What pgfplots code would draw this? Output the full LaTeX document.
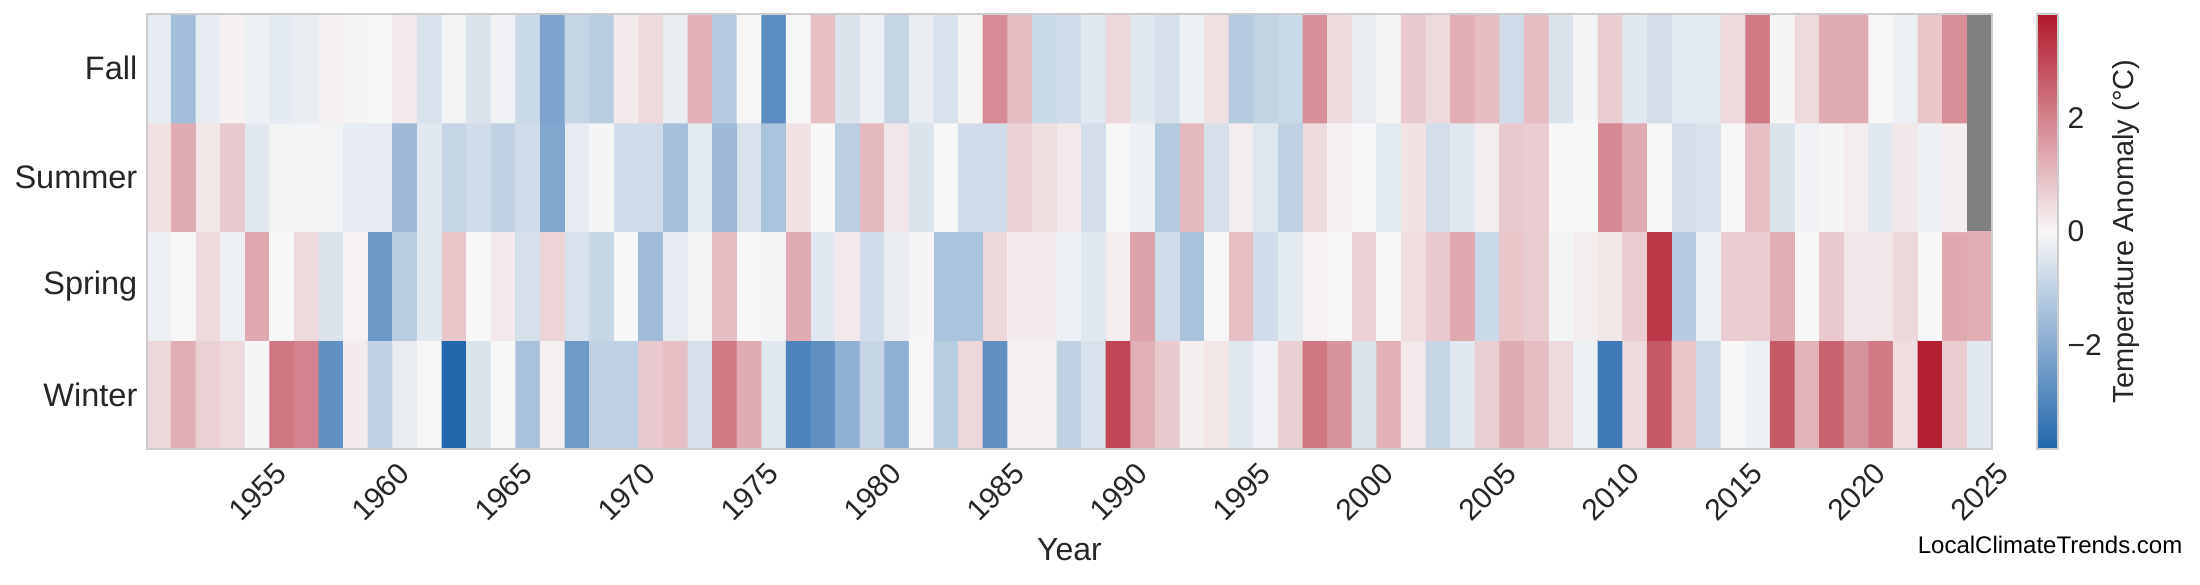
\documentclass[border=0pt]{standalone}
\usepackage{fontspec}
\setmainfont{Liberation Sans}
\usepackage{pgfplots}
\pgfplotsset{compat=1.18}
\usepgfplotslibrary{patchplots}
\definecolor{txt}{HTML}{262626}
\definecolor{framec}{HTML}{CCCCCC}
\definecolor{nodata}{HTML}{808080}
\begin{document}
\begin{tikzpicture}
\begin{axis}[
  name=main,
  scale only axis,
  width=553.5pt, height=130.5pt,
  xmin=1950.5, xmax=2025.5, ymin=-0.5, ymax=3.5,
  axis line style={draw=framec, line width=0.5pt},
  major tick length=0pt,
  xtick={1955,1960,1965,1970,1975,1980,1985,1990,1995,2000,2005,2010,2015,2020,2025},
  xticklabels={1955,1960,1965,1970,1975,1980,1985,1990,1995,2000,2005,2010,2015,2020,2025},
  ytick={0,1,2,3},
  yticklabels={Winter,Spring,Summer,Fall},
  every x tick label/.style={yshift=-12.9pt, rotate=45, anchor=center, font=\fontsize{9}{10}\selectfont, text=txt, inner sep=0pt},
  yticklabel style={anchor=east, font=\fontsize{9.75}{11}\selectfont, text=txt, inner sep=0pt, xshift=-2.7pt},
  xlabel={Year},
  every axis x label/.style={at={(axis description cs:0.5,0)}, anchor=north, yshift=-26.7pt, inner sep=0pt, font=\fontsize{9.6}{11}\selectfont, text=txt},
  colormap={tempmap}{rgb255=(33,102,172) rgb255=(247,247,247) rgb255=(178,24,43)},
  point meta min=-3.83, point meta max=3.83,
  colorbar shift/.style={},
  colorbar,
  colorbar style={
    at={(parent axis.north east)}, anchor=north west, xshift=13.5pt,
    scale only axis, width=6.3pt, height=130.5pt,
    axis line style={draw=framec, line width=0.6pt},
    major tick length=0pt,
    ytick={-2,0,2}, yticklabels={−2,0,2},
    yticklabel style={anchor=west, font=\fontsize{9}{10}\selectfont, text=txt, inner sep=0pt, xshift=2.7pt},
  },
  axis on top,
]
\addplot[matrix plot*, mesh/ordering=y varies, mesh/cols=74, mesh/rows=4, point meta=explicit] coordinates {
(1951,0)[0.55] (1951,1)[-0.2] (1951,2)[0.4] (1951,3)[-0.3]
(1952,0)[1.25] (1952,1)[0.0] (1952,2)[1.3] (1952,3)[-1.5]
(1953,0)[0.65] (1953,1)[0.5] (1953,2)[0.3] (1953,3)[-0.3]
(1954,0)[0.5] (1954,1)[-0.2] (1954,2)[0.8] (1954,3)[0.1]
(1955,0)[-0.05] (1955,1)[1.35] (1955,2)[-0.4] (1955,3)[-0.15]
(1956,0)[2.2] (1956,1)[0.0] (1956,2)[-0.1] (1956,3)[-0.35]
(1957,0)[2.0] (1957,1)[0.5] (1957,2)[-0.05] (1957,3)[-0.25]
(1958,0)[-2.7] (1958,1)[-0.5] (1958,2)[-0.1] (1958,3)[0.1]
(1959,0)[0.2] (1959,1)[0.08] (1959,2)[-0.3] (1959,3)[0.05]
(1960,0)[-1.0] (1960,1)[-2.5] (1960,2)[-0.3] (1960,3)[0.0]
(1961,0)[-0.25] (1961,1)[-1.1] (1961,2)[-1.6] (1961,3)[0.25]
(1962,0)[-0.02] (1962,1)[-0.4] (1962,2)[-0.4] (1962,3)[-0.55]
(1963,0)[-3.8] (1963,1)[0.85] (1963,2)[-0.9] (1963,3)[-0.1]
(1964,0)[-0.5] (1964,1)[0.0] (1964,2)[-0.7] (1964,3)[-0.5]
(1965,0)[0.0] (1965,1)[0.25] (1965,2)[-1.0] (1965,3)[-0.12]
(1966,0)[-1.4] (1966,1)[-0.6] (1966,2)[-0.7] (1966,3)[-0.8]
(1967,0)[0.1] (1967,1)[0.6] (1967,2)[-2.1] (1967,3)[-2.2]
(1968,0)[-2.45] (1968,1)[-0.55] (1968,2)[-0.3] (1968,3)[-0.9]
(1969,0)[-1.0] (1969,1)[-0.85] (1969,2)[-0.05] (1969,3)[-1.1]
(1970,0)[-1.0] (1970,1)[0.0] (1970,2)[-0.7] (1970,3)[0.25]
(1971,0)[0.8] (1971,1)[-1.55] (1971,2)[-0.7] (1971,3)[0.5]
(1972,0)[0.95] (1972,1)[-0.3] (1972,2)[-1.45] (1972,3)[-0.25]
(1973,0)[-0.6] (1973,1)[-0.08] (1973,2)[-0.35] (1973,3)[1.2]
(1974,0)[2.15] (1974,1)[1.0] (1974,2)[-1.6] (1974,3)[-1.15]
(1975,0)[1.3] (1975,1)[0.0] (1975,2)[-0.55] (1975,3)[-0.02]
(1976,0)[-0.4] (1976,1)[-0.1] (1976,2)[-1.35] (1976,3)[-2.8]
(1977,0)[-3.05] (1977,1)[1.3] (1977,2)[0.35] (1977,3)[-0.02]
(1978,0)[-2.7] (1978,1)[-0.4] (1978,2)[0.0] (1978,3)[0.95]
(1979,0)[-1.85] (1979,1)[0.25] (1979,2)[-1.05] (1979,3)[-0.5]
(1980,0)[-0.9] (1980,1)[-0.7] (1980,2)[1.05] (1980,3)[-0.2]
(1981,0)[-1.85] (1981,1)[-0.25] (1981,2)[0.28] (1981,3)[-0.9]
(1982,0)[0.02] (1982,1)[0.05] (1982,2)[-0.5] (1982,3)[-0.25]
(1983,0)[-1.1] (1983,1)[-1.35] (1983,2)[0.0] (1983,3)[-0.55]
(1984,0)[0.55] (1984,1)[-1.35] (1984,2)[-0.7] (1984,3)[0.07]
(1985,0)[-2.7] (1985,1)[0.55] (1985,2)[-0.7] (1985,3)[1.85]
(1986,0)[0.1] (1986,1)[0.2] (1986,2)[0.65] (1986,3)[1.0]
(1987,0)[0.1] (1987,1)[0.2] (1987,2)[0.42] (1987,3)[-0.8]
(1988,0)[-1.0] (1988,1)[-0.2] (1988,2)[0.25] (1988,3)[-0.7]
(1989,0)[-0.55] (1989,1)[-0.4] (1989,2)[-0.65] (1989,3)[-0.4]
(1990,0)[3.05] (1990,1)[0.15] (1990,2)[0.0] (1990,3)[0.55]
(1991,0)[1.23] (1991,1)[1.45] (1991,2)[-0.15] (1991,3)[-0.4]
(1992,0)[0.78] (1992,1)[-0.7] (1992,2)[-1.2] (1992,3)[-0.6]
(1993,0)[0.15] (1993,1)[-1.4] (1993,2)[1.05] (1993,3)[-0.2]
(1994,0)[0.3] (1994,1)[-0.02] (1994,2)[-0.6] (1994,3)[0.4]
(1995,0)[-0.4] (1995,1)[0.95] (1995,2)[0.18] (1995,3)[-1.2]
(1996,0)[-0.12] (1996,1)[-0.7] (1996,2)[-0.45] (1996,3)[-0.95]
(1997,0)[0.68] (1997,1)[-0.35] (1997,2)[-1.0] (1997,3)[-0.8]
(1998,0)[2.2] (1998,1)[0.08] (1998,2)[0.48] (1998,3)[1.75]
(1999,0)[1.7] (1999,1)[0.02] (1999,2)[0.12] (1999,3)[0.5]
(2000,0)[-0.5] (2000,1)[0.65] (2000,2)[0.0] (2000,3)[-0.25]
(2001,0)[1.2] (2001,1)[-0.02] (2001,2)[-0.35] (2001,3)[0.05]
(2002,0)[0.25] (2002,1)[0.45] (2002,2)[0.35] (2002,3)[0.8]
(2003,0)[-0.9] (2003,1)[0.8] (2003,2)[-0.65] (2003,3)[0.5]
(2004,0)[-0.4] (2004,1)[1.35] (2004,2)[-0.4] (2004,3)[1.25]
(2005,0)[0.68] (2005,1)[-0.8] (2005,2)[0.18] (2005,3)[1.0]
(2006,0)[1.3] (2006,1)[0.85] (2006,2)[0.8] (2006,3)[-0.7]
(2007,0)[1.0] (2007,1)[0.72] (2007,2)[0.72] (2007,3)[1.0]
(2008,0)[0.5] (2008,1)[-0.08] (2008,2)[0.0] (2008,3)[-0.5]
(2009,0)[-0.15] (2009,1)[0.18] (2009,2)[-0.03] (2009,3)[-0.05]
(2010,0)[-3.3] (2010,1)[0.3] (2010,2)[1.9] (2010,3)[0.72]
(2011,0)[0.5] (2011,1)[0.72] (2011,2)[1.3] (2011,3)[-0.4]
(2012,0)[2.7] (2012,1)[3.3] (2012,2)[0.0] (2012,3)[-0.65]
(2013,0)[0.85] (2013,1)[-1.15] (2013,2)[-0.65] (2013,3)[-0.38]
(2014,0)[-0.75] (2014,1)[-0.2] (2014,2)[-0.55] (2014,3)[-0.38]
(2015,0)[0.0] (2015,1)[0.72] (2015,2)[0.0] (2015,3)[0.5]
(2016,0)[-0.15] (2016,1)[0.72] (2016,2)[0.95] (2016,3)[2.15]
(2017,0)[2.7] (2017,1)[1.25] (2017,2)[-0.5] (2017,3)[0.03]
(2018,0)[1.15] (2018,1)[0.0] (2018,2)[-0.12] (2018,3)[0.5]
(2019,0)[2.55] (2019,1)[0.8] (2019,2)[0.03] (2019,3)[1.3]
(2020,0)[1.7] (2020,1)[0.28] (2020,2)[0.18] (2020,3)[1.3]
(2021,0)[2.15] (2021,1)[0.28] (2021,2)[-0.4] (2021,3)[0.02]
(2022,0)[0.45] (2022,1)[0.55] (2022,2)[0.27] (2022,3)[-0.2]
(2023,0)[3.7] (2023,1)[0.0] (2023,2)[-0.15] (2023,3)[0.85]
(2024,0)[0.72] (2024,1)[1.35] (2024,2)[0.15] (2024,3)[1.8]
};
% 2025: Winter and Spring observed; Summer and Fall missing (gray)
\addplot[patch, patch type=rectangle, shader=flat, point meta=explicit] coordinates {
(2024.5,-0.5)[-0.4] (2025.5,-0.5)[-0.4] (2025.5,0.5)[-0.4] (2024.5,0.5)[-0.4]
(2024.5,0.5)[1.25] (2025.5,0.5)[1.25] (2025.5,1.5)[1.25] (2024.5,1.5)[1.25]
};
\addplot[draw=none, fill=nodata] coordinates {(2024.5,1.5) (2025.5,1.5) (2025.5,3.5) (2024.5,3.5)} -- cycle;
\end{axis}
\node[rotate=90, anchor=north, inner sep=0pt, font=\fontsize{8.7}{10}\selectfont, text=txt] at ([shift={(589.5pt,65.25pt)}]main.south west) {Temperature Anomaly (°C)};
\node[anchor=base east, inner sep=0pt, font=\fontsize{7.2}{8}\selectfont] at ([shift={(610.8pt,-31.5pt)}]main.south west) {LocalClimateTrends.com};
\pgfresetboundingbox
\path[use as bounding box] ([shift={(-44.1pt,-40.8pt)}]main.south west) rectangle ([shift={(615.9pt,134.7pt)}]main.south west);
\end{tikzpicture}
\end{document}
